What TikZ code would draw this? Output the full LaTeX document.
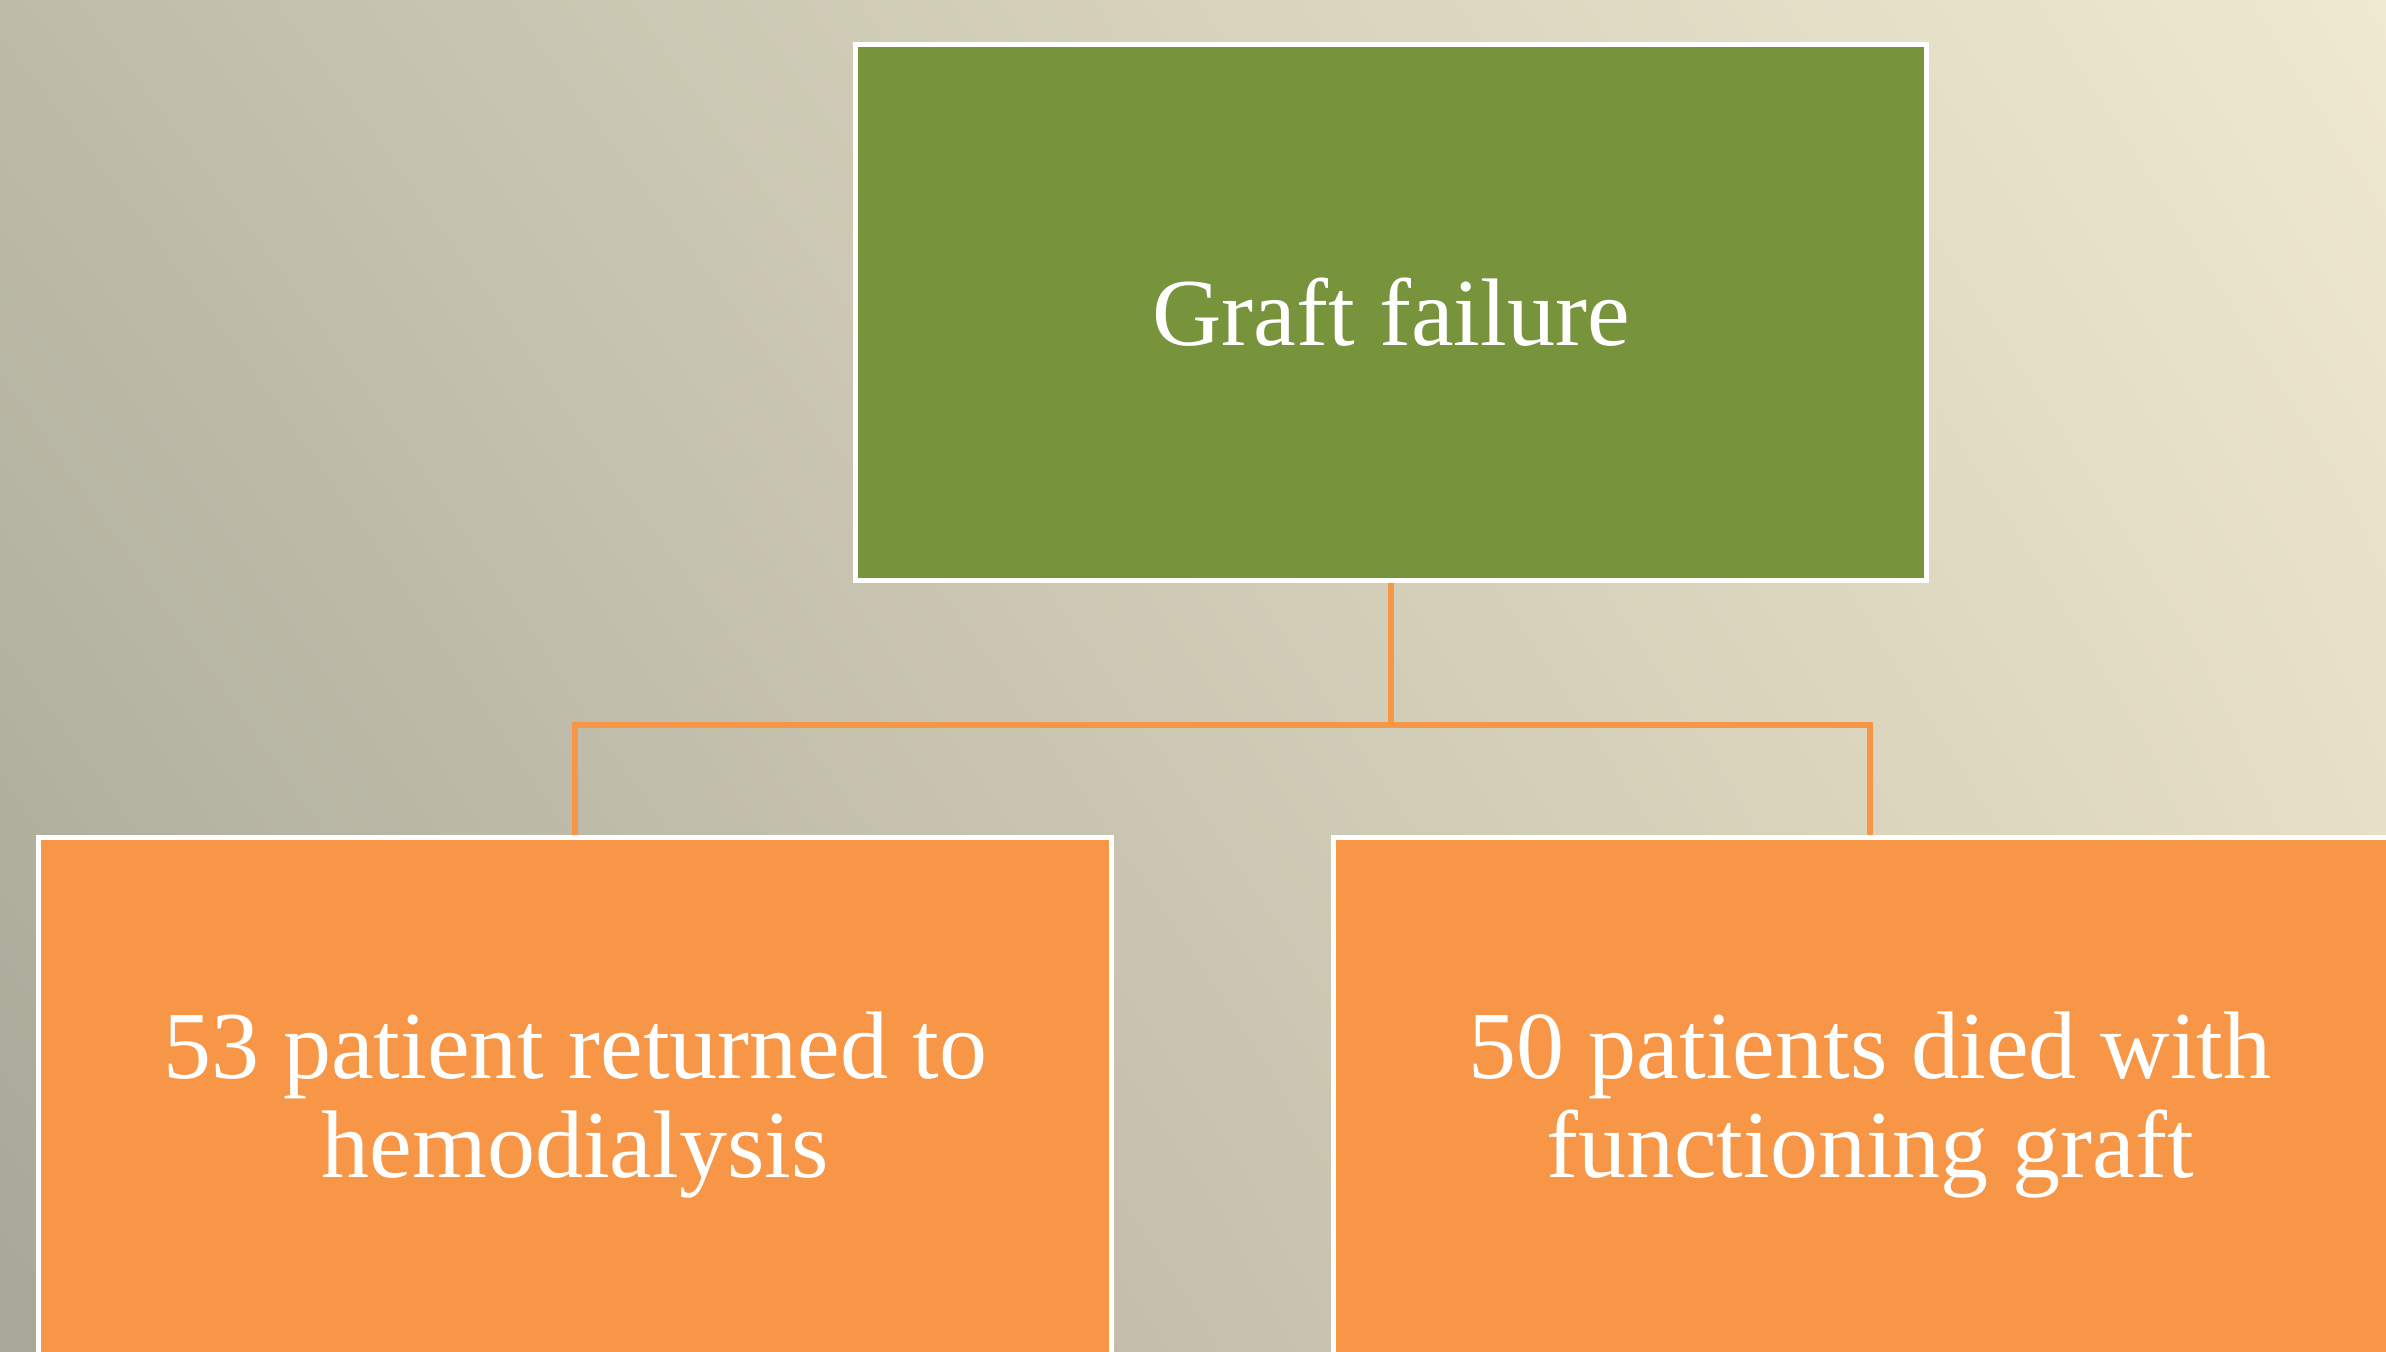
\documentclass[tikz,border=0pt]{standalone}
\usepackage{fontspec}
\setmainfont{Liberation Serif}
\usetikzlibrary{shadings}
\definecolor{bgTL}{RGB}{190,188,168}
\definecolor{bgTR}{RGB}{239,233,208}
\definecolor{bgBL}{RGB}{168,167,152}
\definecolor{bgBR}{RGB}{226,217,192}
\definecolor{boxgreen}{RGB}{119,147,60}
\definecolor{boxorange}{RGB}{247,150,70}
\tikzset{
  px/.style={x=0.01cm,y=-0.01cm},
  chartbox/.style={draw=white, line width=1.42pt, text=white, align=center,
    inner sep=0pt, font=\fontsize{27.3}{27.9}\selectfont},
  topbox/.style={chartbox, fill=boxgreen, minimum width=10.70cm, minimum height=5.355cm},
  lowbox/.style={chartbox, fill=boxorange, minimum width=10.725cm, minimum height=5.355cm},
  link/.style={draw=boxorange, line width=1.7pt}
}
\begin{document}
\begin{tikzpicture}[px]
\useasboundingbox (0,0) rectangle (2386,1351);
\clip (0,0) rectangle (2386,1351);
\shade[upper left=bgTL, upper right=bgTR, lower left=bgBL, lower right=bgBR]
  (0,0) rectangle (2386,1351);
\node[topbox] (top) at (1391,312.5) {Graft failure};
\node[lowbox] (left) at (575,1105) {53 patient returned to\\hemodialysis};
\node[lowbox] (right) at (1870,1105) {50 patients died with\\functioning graft};
\coordinate (j) at (1391,724.5);
\draw[link] (top.south) -- (j) -| (left.north);
\draw[link] (j) -| (right.north);
\end{tikzpicture}
\end{document}
